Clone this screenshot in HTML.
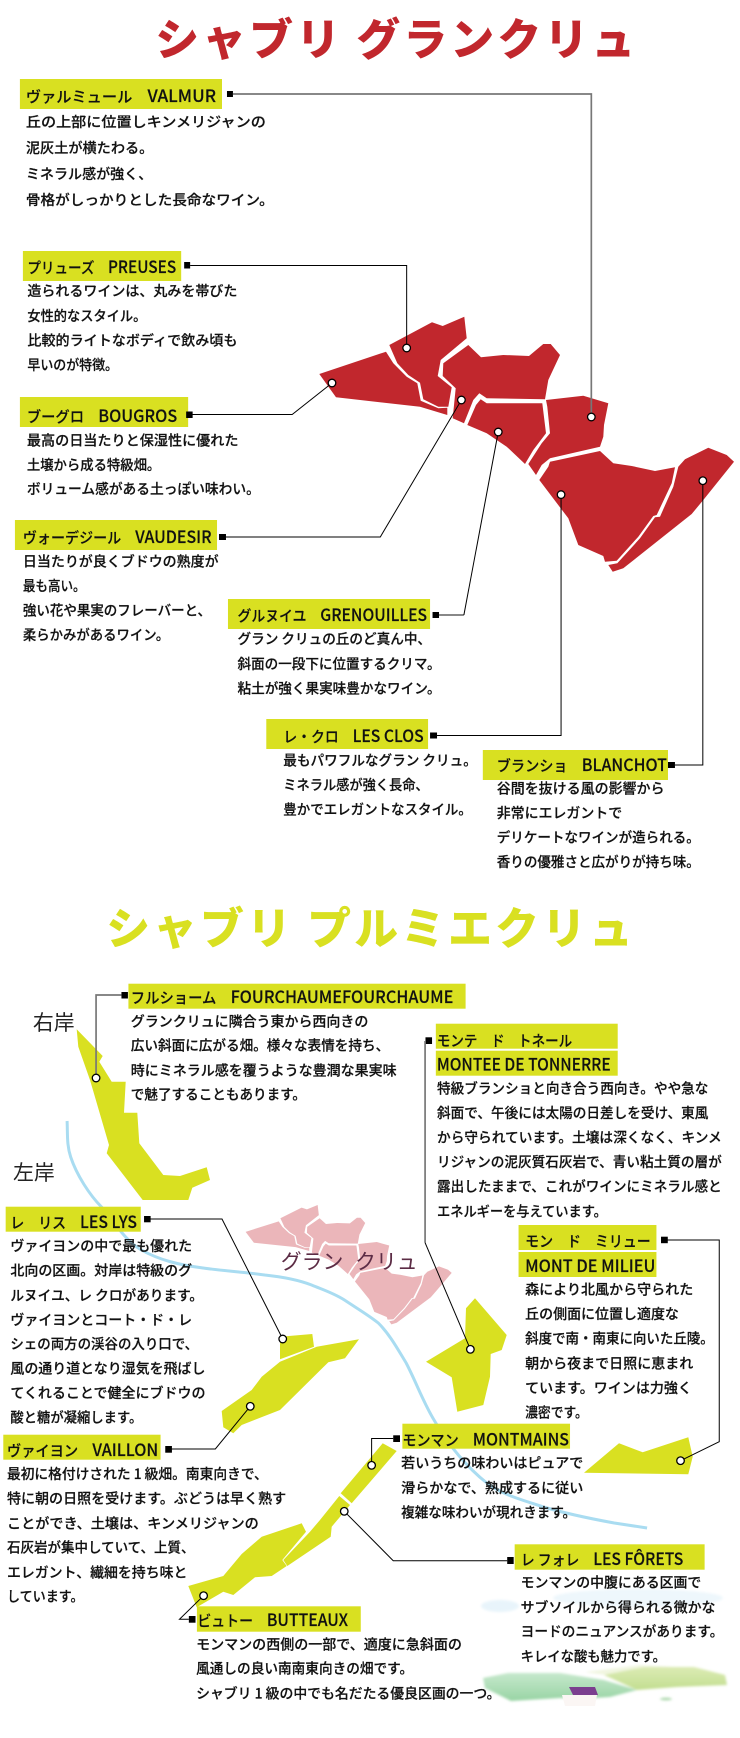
<!DOCTYPE html>
<html lang="ja"><head><meta charset="utf-8"><title>シャブリ</title>
<style>
html,body{margin:0;padding:0;background:#fff}
svg{display:block}
text{font-family:"Liberation Sans","Noto Sans CJK JP",sans-serif;fill:#111}
.b{font-family:"Noto Sans CJK JP",sans-serif;font-size:14px;font-weight:500;stroke:#111;stroke-width:.2px}
.l{font-family:"Noto Sans CJK JP",sans-serif;font-size:15px;font-weight:500;stroke:#111;stroke-width:.15px;transform:translate(0,1px)}
.lat{font-size:17px}
.t{font-family:"Noto Sans CJK JP",sans-serif;font-size:44px;font-weight:900}
.k{font-family:"Noto Sans CJK JP",sans-serif;font-size:21px;font-weight:400}
.y{fill:#d9e021}
.m{fill:#000}
.c{fill:#fff;stroke:#000;stroke-width:1.3}
.n{fill:none;stroke:#000;stroke-width:1}
.g{fill:none;stroke:#777;stroke-width:1.7}
</style></head><body>
<svg xmlns="http://www.w3.org/2000/svg" width="740" height="1738" viewBox="0 0 740 1738">
<defs>
<filter id="bl"><feGaussianBlur stdDeviation="1.2"/></filter>
<linearGradient id="h1" x1="0" y1="0" x2="0" y2="1"><stop offset="0" stop-color="#c6e8cc"/><stop offset="1" stop-color="#98d4a4"/></linearGradient>
<linearGradient id="h2" x1="0" y1="0" x2="0" y2="1"><stop offset="0" stop-color="#dcebb4"/><stop offset="1" stop-color="#c2de90"/></linearGradient>
<g id="map">
<polygon points="319.3,374 386,351.7 393.3,363.3 406.7,376.7 417.3,383.3 420.7,400.7 438.3,408.3 447.3,407.7 447.3,415 420,406.7 336,397.3"/>
<polygon points="389.3,345 432,322.3 442.7,326 464.3,316.7 466.7,338.3 440.7,360 437.7,376 451.7,387.3 448.3,406.7 438.3,406.7 423.3,399.3 420,382.7 408.3,375 397.3,363.3"/>
<polygon points="468.3,345 481,357.3 503.3,355 529,356 543.3,344 550.7,344 560,355 548.3,380 545,399.3 486.7,398.3 479.3,393.3 473.3,400 464,423.3 452.7,418.3 455.7,388.3 442.7,376 443.3,363.3"/>
<polygon points="480.7,399.3 486.7,403.3 542.3,403.3 546,433.3 533.3,450 525,464 506.7,446.7 486.7,433.3 467.3,425 476,405"/>
<polygon points="546,400 583.3,395.7 608.3,403.3 604,425 603.3,436.7 600,446.7 550,458.3 541.7,465 536,475 528.3,464 541.7,443.3 550,433.3 547.3,406.7"/>
<polygon points="550,461.7 600,451 613.3,463.3 631.7,466 655,471 675,467.3 671.7,483.3 656.7,515 653.3,516 638.3,536.7 616.7,560.7 605,561.7 603.3,556 578.3,545 568.3,518.3 539.3,480 548.3,466.7"/>
<polygon points="678.3,466.7 685,459.3 708.3,447.7 726.7,455 734,461.7 703.3,500 691.7,514 623.3,568.3 612.7,571.7 608.3,565 617.3,563.3 640,538.3 655,517.3 660,516.7 673.3,486.7"/>
</g>
</defs>

<!-- watercolor scenery -->
<g filter="url(#bl)">
<ellipse cx="500" cy="1606" rx="19" ry="6" fill="#e8f4fb"/>
<ellipse cx="638" cy="1598" rx="85" ry="9" fill="#eef7fc"/>
<polygon points="585,1672 640,1665 690,1668 640,1680" fill="#f1f6e0"/>
<polygon points="604,1675 644,1667 694,1667 725,1675 727,1685 677,1687 637,1690" fill="url(#h2)"/>
<polygon points="483,1678 508,1673 560,1673 604,1680 637,1690 610,1697 594,1698 560,1698 511,1701 485,1688" fill="url(#h1)"/>
<ellipse cx="666" cy="1699" rx="6" ry="1.5" fill="#b4dcb4"/>
</g>
<polygon points="562,1695 597,1695 595,1706 565,1706" fill="#fbf6f4"/>
<polygon points="569,1687 595,1687 598,1695 573,1695" fill="#7b3f8f"/>

<use href="#map" fill="#c1272d"/>

<g transform="scale(0.9955 1)">
<!-- river -->
<path fill="none" stroke="#a9dcf1" stroke-width="3" d="M67.4,1121 C68,1135 67,1145 71,1157 C77,1175 90,1195 102,1207 C115,1222 125,1240 142,1250 C160,1260 180,1265 204,1268 C225,1271 245,1272 266,1275 C285,1277 300,1280 313,1285 C325,1290 335,1293 346,1300 C358,1308 370,1315 380,1323 C392,1335 400,1350 408,1363 C418,1382 425,1402 436,1420 C450,1445 470,1468 489,1483 C505,1495 525,1500 546,1507 C570,1514 595,1519 617,1523 L650,1528"/>
</g>

<!-- pink grand cru -->
<use href="#map" fill="#ebb6ba" transform="translate(86.9 1056.8) scale(0.497 0.468)"/>

<!-- yellow plots -->
<g class="y">
<polygon points="76.7,1029.3 102.7,1056 99.3,1061.7 111.7,1081.7 125.7,1081.7 124,1112.7 137.3,1112.7 139.3,1143.3 163.3,1175 180,1176 206.7,1167.3 210,1180 192.3,1187.7 188.3,1200 142.7,1200 106.7,1153.3 109,1145 90,1080 78.3,1046.7"/>
<polygon points="280,1336.7 312.3,1334 314,1346.7 280,1359.3"/>
<polygon points="280,1361.7 316.7,1346.7 359,1339.3 345,1358.3 328.3,1362.3 280,1410 241.7,1425 233.3,1433.3 223.3,1427.3 221.7,1411 251.7,1390 261.7,1376.7"/>
<polygon points="475,1298.3 506.7,1335 501.7,1350 490.7,1354 490,1376.7 483.3,1405 457.3,1411.7 451.7,1377.3 426,1361.7 465,1338.3 466,1308.3"/>
<polygon points="584,1472.7 619,1443.3 642.7,1452.3 688.3,1437.3 692.7,1456.7 688.3,1474.3"/>
<polygon points="382.7,1443.3 396.7,1451 351.7,1503.3 340.7,1493.3"/>
<polygon points="339.3,1496 350,1505 331.7,1526.7 330.7,1536.7 287.3,1566 283.3,1560 310,1531.7 320,1520"/>
<polygon points="301.7,1523.3 306,1531.7 282.3,1560 286.7,1566 271.7,1576 255,1577.3 233.3,1595 223.3,1591.7 196.7,1607.3 188.3,1586 223.3,1576 241.7,1554 261.7,1536.7"/>
</g>

<g transform="scale(0.9955 1)">
<!-- section 1 title -->
<text class="t" x="156" y="55" textLength="482" lengthAdjust="spacing" style="fill:#c1272d">シャブリ グランクリュ</text>

<!-- VALMUR -->
<rect class="y" x="20" y="79" width="203" height="30"/>
<text class="l" x="26" y="101" textLength="191" lengthAdjust="spacingAndGlyphs">ヴァルミュール　<tspan class="lat">VALMUR</tspan></text>
<rect class="m" x="228" y="91" width="6" height="6"/>
<path class="g" d="M234,94H594V417"/>
<circle class="c" cx="594" cy="417" r="3.8"/>
<text class="b" x="26" y="127" textLength="241" lengthAdjust="spacingAndGlyphs">丘の上部に位置しキンメリジャンの</text>
<text class="b" x="26" y="153" textLength="128" lengthAdjust="spacingAndGlyphs">泥灰土が横たわる。</text>
<text class="b" x="26" y="179" textLength="127" lengthAdjust="spacingAndGlyphs">ミネラル感が強く、</text>
<text class="b" x="26" y="205" textLength="249" lengthAdjust="spacingAndGlyphs">骨格がしっかりとした長命なワイン。</text>

<!-- PREUSES -->
<rect class="y" x="23" y="251" width="159" height="30"/>
<text class="l" x="27.5" y="272" textLength="149.5" lengthAdjust="spacingAndGlyphs">プリューズ　<tspan class="lat">PREUSES</tspan></text>
<rect class="m" x="185" y="262" width="6" height="6.5"/>
<path class="n" d="M191,265.5H408.5V348"/>
<circle class="c" cx="408.5" cy="348" r="3.8"/>
<text class="b" x="27.5" y="296" textLength="211" lengthAdjust="spacingAndGlyphs">造られるワインは、丸みを帯びた</text>
<text class="b" x="27.5" y="321" textLength="119.5" lengthAdjust="spacingAndGlyphs">女性的なスタイル。</text>
<text class="b" x="27.5" y="345.7" textLength="211" lengthAdjust="spacingAndGlyphs">比較的ライトなボディで飲み頃も</text>
<text class="b" x="27.5" y="370" textLength="91" lengthAdjust="spacingAndGlyphs">早いのが特徴。</text>

<!-- BOUGROS -->
<rect class="y" x="20" y="397" width="169" height="30"/>
<text class="l" x="27" y="421" textLength="151" lengthAdjust="spacingAndGlyphs">ブーグロ　<tspan class="lat">BOUGROS</tspan></text>
<rect class="m" x="187" y="411.5" width="6.5" height="6.5"/>
<path class="n" d="M193,414.5H293.5L333.5,383"/>
<circle class="c" cx="333.5" cy="383" r="3.8"/>
<text class="b" x="27" y="445.7" textLength="212.6" lengthAdjust="spacingAndGlyphs">最高の日当たりと保湿性に優れた</text>
<text class="b" x="27" y="470" textLength="134" lengthAdjust="spacingAndGlyphs">土壌から成る特級畑。</text>
<text class="b" x="27" y="494" textLength="234" lengthAdjust="spacingAndGlyphs">ボリューム感がある土っぽい味わい。</text>

<!-- VAUDESIR -->
<rect class="y" x="15" y="520" width="203" height="30"/>
<text class="l" x="23" y="542" textLength="189.5" lengthAdjust="spacingAndGlyphs">ヴォーデジール　<tspan class="lat">VAUDESIR</tspan></text>
<rect class="m" x="220" y="534" width="7" height="6"/>
<path class="n" d="M227,537H382L463.5,400"/>
<circle class="c" cx="463.5" cy="400" r="3.8"/>
<text class="b" x="23" y="566.4" textLength="196.6" lengthAdjust="spacingAndGlyphs">日当たりが良くブドウの熟度が</text>
<text class="b" x="23" y="591" textLength="63" lengthAdjust="spacingAndGlyphs">最も高い。</text>
<text class="b" x="23" y="615.7" textLength="189" lengthAdjust="spacingAndGlyphs">強い花や果実のフレーバーと、</text>
<text class="b" x="23" y="640" textLength="147" lengthAdjust="spacingAndGlyphs">柔らかみがあるワイン。</text>

<!-- GRENOUILLES -->
<rect class="y" x="229" y="599" width="203" height="30"/>
<text class="l" x="238.6" y="620" textLength="190.4" lengthAdjust="spacingAndGlyphs">グルヌイユ　<tspan class="lat">GRENOUILLES</tspan></text>
<rect class="m" x="434.5" y="612" width="6.5" height="6"/>
<path class="g" d="M441,615H466"/>
<path class="n" d="M466,615L500.5,432"/>
<circle class="c" cx="500.5" cy="432" r="3.8"/>
<text class="b" x="238.6" y="644" textLength="194.4" lengthAdjust="spacingAndGlyphs">グラン クリュの丘のど真ん中、</text>
<text class="b" x="238.6" y="669" textLength="204" lengthAdjust="spacingAndGlyphs">斜面の一段下に位置するクリマ。</text>
<text class="b" x="238.6" y="693.6" textLength="204" lengthAdjust="spacingAndGlyphs">粘土が強く果実味豊かなワイン。</text>

<!-- LES CLOS -->
<rect class="y" x="267.5" y="719" width="162.5" height="30"/>
<text class="l" x="284.6" y="741" textLength="141" lengthAdjust="spacingAndGlyphs">レ・クロ　<tspan class="lat">LES CLOS</tspan></text>
<rect class="m" x="432" y="732.5" width="7" height="6"/>
<path class="n" d="M439,735.5H563.6V494.6"/>
<circle class="c" cx="563.6" cy="494.6" r="3.8"/>
<text class="b" x="284.6" y="765.7" textLength="194.4" lengthAdjust="spacingAndGlyphs">最もパワフルなグラン クリュ。</text>
<text class="b" x="284.6" y="790" textLength="146" lengthAdjust="spacingAndGlyphs">ミネラル感が強く長命、</text>
<text class="b" x="284.6" y="814.6" textLength="189.4" lengthAdjust="spacingAndGlyphs">豊かでエレガントなスタイル。</text>

<!-- BLANCHOT -->
<rect class="y" x="485" y="750" width="186" height="30"/>
<text class="l" x="499" y="770" textLength="171" lengthAdjust="spacingAndGlyphs">ブランショ　<tspan class="lat">BLANCHOT</tspan></text>
<rect class="m" x="671" y="762" width="7" height="6"/>
<path class="n" d="M678,765H706V480.7"/>
<circle class="c" cx="706" cy="480.7" r="3.8"/>
<text class="b" x="499" y="793.6" textLength="168.5" lengthAdjust="spacingAndGlyphs">谷間を抜ける風の影響から</text>
<text class="b" x="499" y="818" textLength="126" lengthAdjust="spacingAndGlyphs">非常にエレガントで</text>
<text class="b" x="499" y="842.5" textLength="204" lengthAdjust="spacingAndGlyphs">デリケートなワインが造られる。</text>
<text class="b" x="499" y="867" textLength="204" lengthAdjust="spacingAndGlyphs">香りの優雅さと広がりが持ち味。</text>

<!-- section 2 title -->
<text class="t" x="106.7" y="944" textLength="529" lengthAdjust="spacing" style="fill:#d9e021">シャブリ プルミエクリュ</text>

<text class="k" x="282" y="1269" style="fill:#5c2c45">グラン</text>
<text class="k" x="356.6" y="1269" style="fill:#5c2c45">クリュ</text>
<text class="k" x="33" y="1030" style="fill:#222">右岸</text>
<text class="k" x="13" y="1180" style="fill:#222">左岸</text>

<!-- FOURCHAUME -->
<rect class="y" x="129" y="983.7" width="338.7" height="25"/>
<text class="l" x="131.4" y="1002" textLength="324" lengthAdjust="spacingAndGlyphs">フルショーム　<tspan class="lat">FOURCHAUMEFOURCHAUME</tspan></text>
<rect class="m" x="122" y="992" width="6.5" height="6.5"/>
<path class="g" d="M122,995H96.5V1078"/>
<circle class="c" cx="96.5" cy="1078" r="3.8"/>
<text class="b" x="131.4" y="1026.3" textLength="238.6" lengthAdjust="spacingAndGlyphs">グランクリュに隣合う東から西向きの</text>
<text class="b" x="131.4" y="1050.7" textLength="259.6" lengthAdjust="spacingAndGlyphs">広い斜面に広がる畑。様々な表情を持ち、</text>
<text class="b" x="131.4" y="1075.3" textLength="267" lengthAdjust="spacingAndGlyphs">時にミネラル感を覆うような豊潤な果実味</text>
<text class="b" x="131.4" y="1099.7" textLength="176" lengthAdjust="spacingAndGlyphs">で魅了することもあります。</text>

<!-- MONTEE -->
<rect class="y" x="437.8" y="1023.7" width="182.7" height="25"/>
<rect class="y" x="437.8" y="1050.7" width="182.7" height="25"/>
<text class="l" x="438.8" y="1045" textLength="136" lengthAdjust="spacingAndGlyphs">モンテ　ド　トネール</text>
<text class="l" x="438.8" y="1069.5" textLength="174.6" lengthAdjust="spacingAndGlyphs"><tspan class="lat">MONTEE DE TONNERRE</tspan></text>
<rect class="m" x="427.4" y="1037.3" width="6.6" height="6.7"/>
<path class="g" d="M427,1041V1242.7"/>
<path class="n" d="M427,1242.7L472.5,1349.3"/>
<circle class="c" cx="472.5" cy="1349.3" r="3.8"/>
<text class="b" x="439" y="1093.7" textLength="272.6" lengthAdjust="spacingAndGlyphs">特級ブランショと向き合う西向き。やや急な</text>
<text class="b" x="439" y="1118" textLength="272.6" lengthAdjust="spacingAndGlyphs">斜面で、午後には太陽の日差しを受け、東風</text>
<text class="b" x="439" y="1142.7" textLength="286" lengthAdjust="spacingAndGlyphs">から守られています。土壌は深くなく、キンメ</text>
<text class="b" x="439" y="1167" textLength="286" lengthAdjust="spacingAndGlyphs">リジャンの泥灰質石灰岩で、青い粘土質の層が</text>
<text class="b" x="439" y="1191.7" textLength="286" lengthAdjust="spacingAndGlyphs">露出したままで、これがワインにミネラル感と</text>
<text class="b" x="439" y="1216.3" textLength="170.6" lengthAdjust="spacingAndGlyphs">エネルギーを与えています。</text>

<!-- MILIEU -->
<rect class="y" x="520.9" y="1225" width="138.5" height="25"/>
<rect class="y" x="520.9" y="1252" width="138.5" height="25"/>
<text class="l" x="527.5" y="1245.5" textLength="126.2" lengthAdjust="spacingAndGlyphs">モン　ド　ミリュー</text>
<text class="l" x="527.5" y="1271" textLength="130.9" lengthAdjust="spacingAndGlyphs"><tspan class="lat">MONT DE MILIEU</tspan></text>
<rect class="m" x="664" y="1236.7" width="6.8" height="6.5"/>
<path class="n" d="M670,1240H722.5V1441.7L683.6,1460.7"/>
<circle class="c" cx="683.6" cy="1460.7" r="3.8"/>
<text class="b" x="527.5" y="1294.7" textLength="168.9" lengthAdjust="spacingAndGlyphs">森により北風から守られた</text>
<text class="b" x="527.5" y="1319" textLength="154.5" lengthAdjust="spacingAndGlyphs">丘の側面に位置し適度な</text>
<text class="b" x="527.5" y="1343.7" textLength="189.5" lengthAdjust="spacingAndGlyphs">斜度で南・南東に向いた丘陵。</text>
<text class="b" x="527.5" y="1368.3" textLength="168.9" lengthAdjust="spacingAndGlyphs">朝から夜まで日照に恵まれ</text>
<text class="b" x="527.5" y="1393" textLength="167.5" lengthAdjust="spacingAndGlyphs">ています。ワインは力強く</text>
<text class="b" x="527.5" y="1417.7" textLength="63" lengthAdjust="spacingAndGlyphs">濃密です。</text>

<!-- LES LYS -->
<rect class="y" x="5.7" y="1206.7" width="135.7" height="25"/>
<text class="l" x="10.4" y="1227" textLength="127.2" lengthAdjust="spacingAndGlyphs">レ　リス　<tspan class="lat">LES LYS</tspan></text>
<rect class="m" x="144.7" y="1216" width="6.6" height="6.3"/>
<path class="n" d="M151,1219H223L284,1339"/>
<circle class="c" cx="284" cy="1339" r="3.8"/>
<text class="b" x="10.4" y="1251" textLength="182.6" lengthAdjust="spacingAndGlyphs">ヴァイヨンの中で最も優れた</text>
<text class="b" x="10.4" y="1275.7" textLength="182.6" lengthAdjust="spacingAndGlyphs">北向の区画。対岸は特級のグ</text>
<text class="b" x="10.4" y="1300.3" textLength="193.6" lengthAdjust="spacingAndGlyphs">ルヌイユ、レ クロがあります。</text>
<text class="b" x="10.4" y="1325" textLength="182.6" lengthAdjust="spacingAndGlyphs">ヴァイヨンとコート・ド・レ</text>
<text class="b" x="10.4" y="1349" textLength="188.6" lengthAdjust="spacingAndGlyphs">シェの両方の渓谷の入り口で、</text>
<text class="b" x="10.4" y="1373.7" textLength="196" lengthAdjust="spacingAndGlyphs">風の通り道となり湿気を飛ばし</text>
<text class="b" x="10.4" y="1398" textLength="196" lengthAdjust="spacingAndGlyphs">てくれることで健全にブドウの</text>
<text class="b" x="10.4" y="1422.7" textLength="132.6" lengthAdjust="spacingAndGlyphs">酸と糖が凝縮します。</text>

<!-- VAILLON -->
<rect class="y" x="3.3" y="1434.7" width="158" height="25"/>
<text class="l" x="7" y="1455" textLength="152" lengthAdjust="spacingAndGlyphs">ヴァイヨン　<tspan class="lat">VAILLON</tspan></text>
<rect class="m" x="166" y="1446" width="6.7" height="6.7"/>
<path class="n" d="M172,1449H216.3L251.4,1406.3"/>
<circle class="c" cx="251.4" cy="1406.3" r="3.8"/>
<text class="b" x="7" y="1479" textLength="262" lengthAdjust="spacingAndGlyphs">最初に格付けされた 1 級畑。南東向きで、</text>
<text class="b" x="7" y="1503.7" textLength="280.5" lengthAdjust="spacingAndGlyphs">特に朝の日照を受けます。ぶどうは早く熟す</text>
<text class="b" x="7" y="1528.3" textLength="253" lengthAdjust="spacingAndGlyphs">ことができ、土壌は、キンメリジャンの</text>
<text class="b" x="7" y="1552.7" textLength="188.4" lengthAdjust="spacingAndGlyphs">石灰岩が集中していて、上質、</text>
<text class="b" x="7" y="1577.3" textLength="181.3" lengthAdjust="spacingAndGlyphs">エレガント、繊細を持ち味と</text>
<text class="b" x="7" y="1601.7" textLength="77" lengthAdjust="spacingAndGlyphs">しています。</text>

<!-- MONTMAINS -->
<rect class="y" x="404.2" y="1423.7" width="168.4" height="25"/>
<text class="l" x="404.2" y="1444.5" textLength="167.4" lengthAdjust="spacingAndGlyphs">モンマン　<tspan class="lat">MONTMAINS</tspan></text>
<rect class="m" x="395" y="1435.3" width="6.8" height="6.7"/>
<path class="n" d="M395,1438.5H373.3V1465.3"/>
<circle class="c" cx="373.3" cy="1465.3" r="3.8"/>
<text class="b" x="403" y="1468" textLength="182.9" lengthAdjust="spacingAndGlyphs">若いうちの味わいはピュアで</text>
<text class="b" x="403" y="1493" textLength="182.9" lengthAdjust="spacingAndGlyphs">滑らかなで、熟成するに従い</text>
<text class="b" x="403" y="1517.3" textLength="175.7" lengthAdjust="spacingAndGlyphs">複雑な味わいが現れきます。</text>

<!-- LES FORETS -->
<rect class="y" x="517" y="1544.3" width="190.8" height="25.4"/>
<text class="l" x="523.2" y="1563.8" textLength="163.2" lengthAdjust="spacingAndGlyphs">レ フォレ　<tspan class="lat">LES FÔRETS</tspan></text>
<rect class="m" x="509.5" y="1557" width="6.5" height="7"/>
<path class="n" d="M509.5,1560.7H395L345.8,1511.3"/>
<circle class="c" cx="345.8" cy="1511.3" r="3.8"/>
<text class="b" x="523" y="1587.7" textLength="181.5" lengthAdjust="spacingAndGlyphs">モンマンの中腹にある区画で</text>
<text class="b" x="523" y="1612.3" textLength="195.7" lengthAdjust="spacingAndGlyphs">サブソイルから得られる微かな</text>
<text class="b" x="523" y="1636.7" textLength="203.7" lengthAdjust="spacingAndGlyphs">ヨードのニュアンスがあります。</text>
<text class="b" x="523" y="1661.3" textLength="146" lengthAdjust="spacingAndGlyphs">キレイな酸も魅力です。</text>

<!-- BUTTEAUX -->
<rect class="y" x="197.8" y="1606.3" width="164.6" height="25.4"/>
<text class="l" x="198.3" y="1625" textLength="151.3" lengthAdjust="spacingAndGlyphs">ビュトー　<tspan class="lat">BUTTEAUX</tspan></text>
<rect class="m" x="189.7" y="1616" width="6.7" height="6.7"/>
<path class="n" d="M189.7,1619.3H180.3L204.5,1595.7"/>
<circle class="c" cx="204.5" cy="1595.7" r="3.8"/>
<text class="b" x="197" y="1649.3" textLength="267" lengthAdjust="spacingAndGlyphs">モンマンの西側の一部で、適度に急斜面の</text>
<text class="b" x="197" y="1673.7" textLength="218" lengthAdjust="spacingAndGlyphs">風通しの良い南南東向きの畑です。</text>
<text class="b" x="197" y="1698.3" textLength="305.8" lengthAdjust="spacingAndGlyphs">シャブリ 1 級の中でも名だたる優良区画の一つ。</text>
</g>
</svg>
</body></html>
